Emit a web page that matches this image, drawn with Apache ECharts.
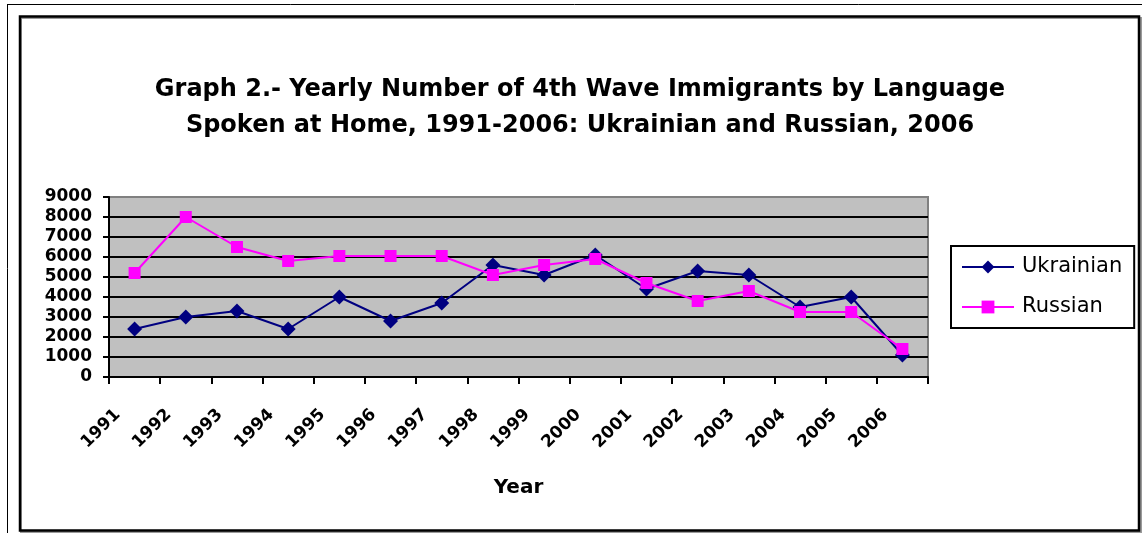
<!DOCTYPE html>
<html>
<head>
<meta charset="utf-8">
<style>
  html, body { margin: 0; padding: 0; background: #ffffff; }
  #chart { width: 1142px; height: 533px; }
</style>
<script src="https://cdn.jsdelivr.net/npm/echarts@6/dist/echarts.min.js"></script>
</head>
<body>
<div id="chart"></div>
<script>
// Yearly number of 4th wave immigrants by language spoken at home
const years = ['1991', '1992', '1993', '1994', '1995', '1996', '1997', '1998',
               '1999', '2000', '2001', '2002', '2003', '2004', '2005', '2006'];
const ukrainian = [2400, 3000, 3300, 2400, 4000, 2800, 3700, 5600,
                   5100, 6100, 4400, 5300, 5100, 3500, 4000, 1100];
const russian = [5200, 8000, 6500, 5800, 6050, 6050, 6050, 5100,
                 5600, 5900, 4700, 3800, 4300, 3250, 3250, 1400];
const yTicks = { min: 0, max: 9000, step: 1000 };

const FONT = 'DejaVu Sans';
const chart = echarts.init(document.getElementById('chart'), null, { renderer: 'canvas' });

// split lines are black; the topmost one coincides with the grey plot border
const splitColors = [];
for (let v = yTicks.min; v <= yTicks.max; v += yTicks.step) {
  splitColors.push(v === yTicks.max ? '#808080' : '#000000');
}

chart.setOption({
  animation: false,
  backgroundColor: '#ffffff',
  graphic: [
    { type: 'line', shape: { x1: 7, y1: 4.5, x2: 1142, y2: 4.5 }, style: { stroke: '#000', lineWidth: 1 }, silent: true },
    { type: 'line', shape: { x1: 7.5, y1: 4, x2: 7.5, y2: 533 }, style: { stroke: '#000', lineWidth: 1 }, silent: true },
    { type: 'rect', shape: { x: 21, y: 18, width: 1120, height: 514 }, style: { fill: null, stroke: '#9a9a9a', lineWidth: 2 }, silent: true, z: -1 },
    { type: 'rect', shape: { x: 20, y: 16.5, width: 1119, height: 514 }, style: { fill: null, stroke: '#000', lineWidth: 2.5 }, silent: true }
  ],
  title: {
    text: 'Graph 2.- Yearly Number of 4th Wave Immigrants by Language\nSpoken at Home, 1991-2006: Ukrainian and Russian, 2006',
    left: 580,
    top: 72,
    textAlign: 'center',
    padding: 0,
    textStyle: {
      fontFamily: FONT,
      fontSize: 24,
      fontWeight: 'bold',
      color: '#000',
      lineHeight: 36
    }
  },
  legend: {
    orient: 'vertical',
    left: 951,
    top: 246,
    padding: [9, 12, 9, 10],
    itemWidth: 52,
    itemHeight: 16,
    itemGap: 16,
    borderColor: '#000',
    borderWidth: 2,
    backgroundColor: '#fff',
    textStyle: { fontFamily: FONT, fontSize: 21, color: '#000', lineHeight: 24, padding: [0, 0, 0, 3] },
    data: ['Ukrainian', 'Russian']
  },
  grid: {
    left: 109,
    right: 214,
    top: 197,
    bottom: 156,
    show: true,
    backgroundColor: '#C0C0C0',
    borderColor: '#808080',
    borderWidth: 2,
    containLabel: false
  },
  xAxis: {
    type: 'category',
    data: years,
    boundaryGap: true,
    name: 'Year',
    nameLocation: 'middle',
    nameGap: 101,
    nameTextStyle: { fontFamily: FONT, fontSize: 20, fontWeight: 'bold', color: '#000' },
    axisLine: { show: true, lineStyle: { color: '#000', width: 2 } },
    axisTick: { show: true, inside: false, length: 7, alignWithLabel: false, lineStyle: { color: '#000', width: 2 } },
    axisLabel: {
      interval: 0,
      rotate: 45,
      margin: 18,
      padding: [0, 24, 0, 0],
      fontFamily: FONT,
      fontSize: 17,
      fontWeight: 'bold',
      color: '#000'
    },
    splitLine: { show: false }
  },
  yAxis: {
    type: 'value',
    min: yTicks.min,
    max: yTicks.max,
    interval: yTicks.step,
    axisLine: { show: true, lineStyle: { color: '#000', width: 2 } },
    axisTick: { show: true, inside: false, length: 6, lineStyle: { color: '#000', width: 2 } },
    axisLabel: {
      margin: 17,
      formatter: (v) => String(v),
      fontFamily: FONT,
      fontSize: 17,
      fontWeight: 'bold',
      color: '#000'
    },
    splitLine: { show: true, lineStyle: { color: splitColors, width: 2 } }
  },
  series: [
    {
      name: 'Ukrainian',
      type: 'line',
      data: ukrainian,
      symbol: 'diamond',
      symbolSize: 15,
      lineStyle: { color: '#000080', width: 2 },
      itemStyle: { color: '#000080' },
      z: 3
    },
    {
      name: 'Russian',
      type: 'line',
      data: russian,
      symbol: 'rect',
      symbolSize: 12,
      lineStyle: { color: '#FF00FF', width: 2 },
      itemStyle: { color: '#FF00FF' },
      z: 4
    }
  ]
});
</script>
</body>
</html>
